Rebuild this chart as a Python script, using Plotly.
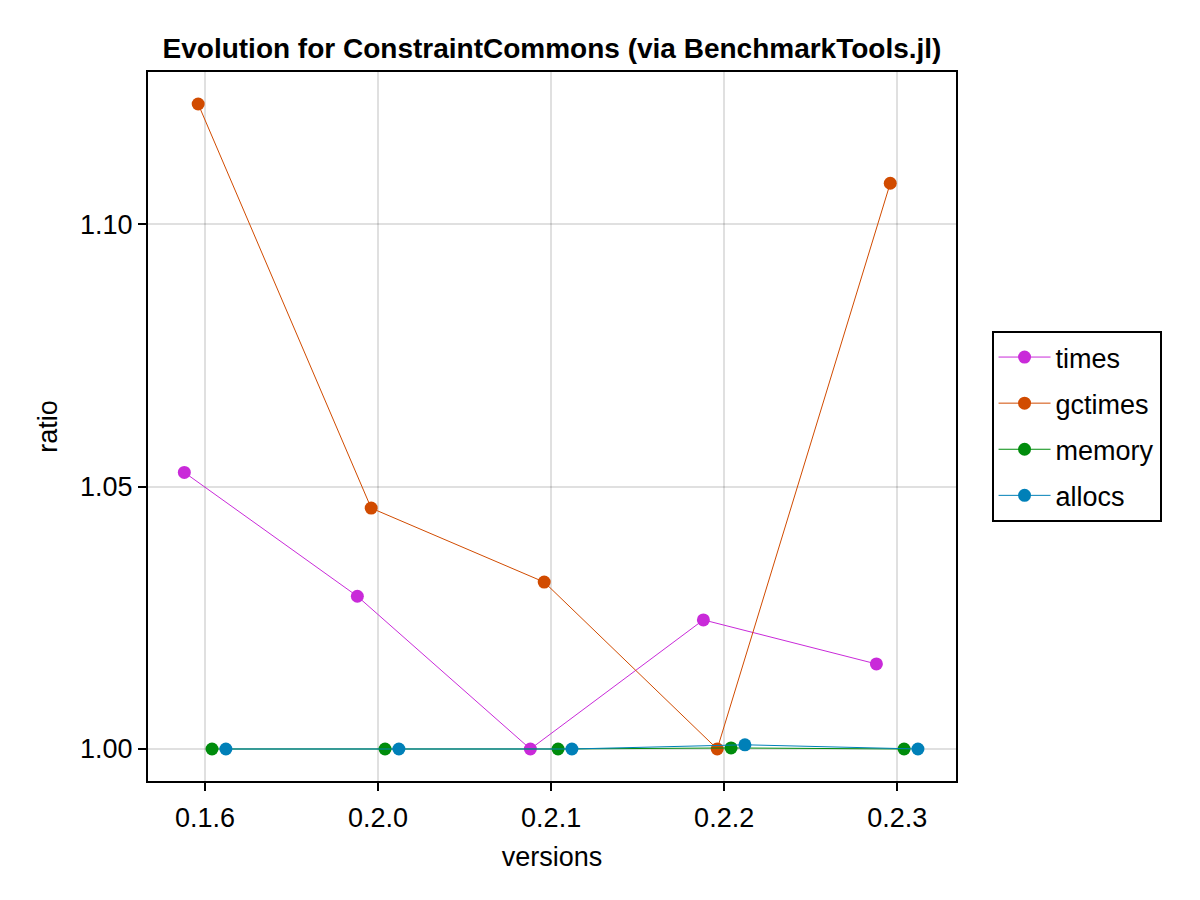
import plotly.graph_objects as go

versions = ["0.1.6", "0.2.0", "0.2.1", "0.2.2", "0.2.3"]
times = [1.0527, 1.0291, 1.0000, 1.0246, 1.0162]
gctimes = [1.1229, 1.0459, 1.0318, 1.0000, 1.1078]
memory = [1.0000, 1.0000, 1.0000, 1.0002, 1.0000]
allocs = [1.0000, 1.0000, 1.0000, 1.0008, 1.0000]

series = [
    ("times", times, "#c92ad9", -0.12),
    ("gctimes", gctimes, "#d14b00", -0.04),
    ("memory", memory, "#008c0c", 0.04),
    ("allocs", allocs, "#0080b8", 0.12),
]

fig = go.Figure()
for name, vals, color, off in series:
    xs = [i + 1 + off for i in range(len(vals))]
    fig.add_trace(go.Scatter(
        x=xs, y=vals, name=name, mode="lines+markers", legendgroup=name,
        line=dict(color=color, width=1),
        marker=dict(color=color, size=13),
    ))

font = "Liberation Sans, Arial, sans-serif"
fig.update_layout(
    width=1200, height=900,
    paper_bgcolor="white", plot_bgcolor="white",
    margin=dict(l=140, r=252, t=64, b=127),
    font=dict(family=font, size=27, color="black"),
    title=dict(text="<b>Evolution for ConstraintCommons (via BenchmarkTools.jl)</b>",
               x=0.5, xref="paper", y=1, yref="paper", yanchor="bottom",
               pad=dict(b=14), font=dict(size=28)),
    showlegend=True,
    legend=dict(x=1.044, xanchor="left", y=0.5, yanchor="middle",
                bordercolor="black", borderwidth=2, font=dict(size=27),
                tracegroupgap=8, itemwidth=52),
)
fig.update_xaxes(
    range=[0.67, 5.34], tickvals=[1, 2, 3, 4, 5], ticktext=versions,
    showline=True, linecolor="black", linewidth=2, mirror=True,
    ticks="outside", ticklen=8, tickwidth=2, tickcolor="black",
    ticklabelstandoff=4,
    showgrid=True, gridcolor="rgba(0,0,0,0.12)", gridwidth=2,
    zeroline=False, automargin=False,
    title=dict(text="versions", standoff=15, font=dict(size=27)),
)
fig.update_yaxes(
    range=[0.9939, 1.129], tickvals=[1.00, 1.05, 1.10], tickformat=".2f",
    showline=True, linecolor="black", linewidth=2, mirror=True,
    ticks="outside", ticklen=8, tickwidth=2, tickcolor="black",
    showgrid=True, gridcolor="rgba(0,0,0,0.12)", gridwidth=2,
    zeroline=False, automargin=False,
    title=dict(text="ratio", standoff=15, font=dict(size=27)),
)
fig.write_html("out.html")
